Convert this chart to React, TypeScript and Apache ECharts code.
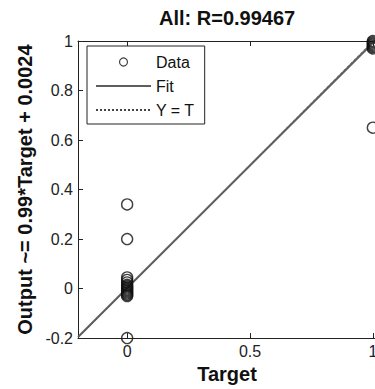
import React, { useEffect, useRef } from "react";
import * as echarts from "echarts";

const title = "All: R=0.99467";
const xName = "Target";
const yName = "Output ~= 0.99*Target + 0.0024";
const xTicks = [0, 0.5, 1];
const dataAt0 = [0.34, 0.2, 0.045, 0.035, 0.025, 0.015, 0.01, 0.005, 0, -0.005, -0.01, -0.015, -0.02, -0.025, -0.03, -0.2];
const dataAt1 = [1.0, 0.995, 0.99, 0.985, 0.98, 0.975, 0.97, 0.65];
const fitX = [-0.2, 1.2];
const fitY = [-0.1956, 1.1904];
const identX = [-0.2, 1.2];
const identY = [-0.2, 1.2];

export default function App() {
  const ref = useRef<HTMLDivElement>(null);
  useEffect(() => {
    const chart = echarts.init(ref.current!, null, { renderer: "svg" });
    const points = [
      ...dataAt0.map((v) => [0, v]),
      ...dataAt1.map((v) => [1, v]),
    ];
    const font = "Liberation Sans";
    const axisCommon = {
      min: -0.2,
      max: 1.2,
      axisLine: { onZero: false, lineStyle: { color: "#222", width: 1 } },
      axisTick: { inside: true, length: 5, customValues: xTicks, lineStyle: { color: "#222" } },
      splitLine: { show: false },
    };
    chart.setOption({
      animation: false,
      backgroundColor: "#fff",
      title: {
        text: title,
        left: 154,
        top: 3,
        textStyle: { fontFamily: font, fontSize: 20, fontWeight: "bold", color: "#111" },
      },
      grid: { left: 78, top: 41, right: 8, bottom: 50 },
      legend: {
        orient: "vertical",
        left: 87,
        top: 46,
        padding: [8, 10, 6, 8],
        itemGap: 8,
        itemWidth: 55,
        itemHeight: 8,
        borderColor: "#222",
        borderWidth: 1,
        borderRadius: 0,
        backgroundColor: "#fff",
        textStyle: { fontFamily: font, fontSize: 16, color: "#111" },
        data: [
          { name: "Data", itemStyle: { color: "rgba(255,255,255,0)", borderColor: "#111", borderWidth: 1.2 } },
          { name: "Fit", itemStyle: { opacity: 0 } },
          { name: "Y = T", itemStyle: { opacity: 0 } },
        ],
      },
      xAxis: [
        {
          ...axisCommon,
          type: "value",
          position: "bottom",
          name: xName,
          nameLocation: "middle",
          nameGap: 22,
          nameTextStyle: { fontFamily: font, fontSize: 20, fontWeight: "bold", color: "#111", padding: [0, 46, 0, 0] },
          axisLabel: { customValues: xTicks, fontFamily: font, fontSize: 16, color: "#222", margin: 5 },
        },
        {
          ...axisCommon,
          type: "value",
          position: "top",
          axisLabel: { show: false },
        },
      ],
      yAxis: {
        type: "value",
        min: -0.2,
        max: 1,
        interval: 0.2,
        name: yName,
        nameLocation: "middle",
        nameGap: 43,
        nameTextStyle: { fontFamily: font, fontSize: 20, fontWeight: "bold", color: "#111" },
        axisLine: { show: true, onZero: false, lineStyle: { color: "#222" } },
        axisTick: { show: true, inside: true, length: 5, lineStyle: { color: "#222" } },
        splitLine: { show: false },
        axisLabel: { fontFamily: font, fontSize: 16, color: "#222", margin: 5 },
      },
      series: [
        {
          name: "Y = T",
          type: "line",
          data: identX.map((x, i) => [x, identY[i]]),
          symbol: "none",
          lineStyle: { color: "#444", width: 1, type: "dotted" },
          itemStyle: { color: "#444" },
          z: 1,
        },
        {
          name: "Fit",
          type: "line",
          data: fitX.map((x, i) => [x, fitY[i]]),
          symbol: "none",
          lineStyle: { color: "#5e5e5e", width: 2 },
          itemStyle: { color: "#5e5e5e" },
          z: 2,
        },
        {
          name: "Data",
          type: "scatter",
          data: points,
          symbol: "circle",
          symbolSize: 11,
          itemStyle: { color: "rgba(255,255,255,0)", borderColor: "#111", borderWidth: 1.4 },
          z: 3,
        },
      ],
    });
    return () => chart.dispose();
  }, []);
  return (
    <div style={{ position: "absolute", left: 0, top: 0, width: 375, height: 389, overflow: "hidden" }}>
      <div ref={ref} style={{ width: 430, height: 389 }} />
    </div>
  );
}
